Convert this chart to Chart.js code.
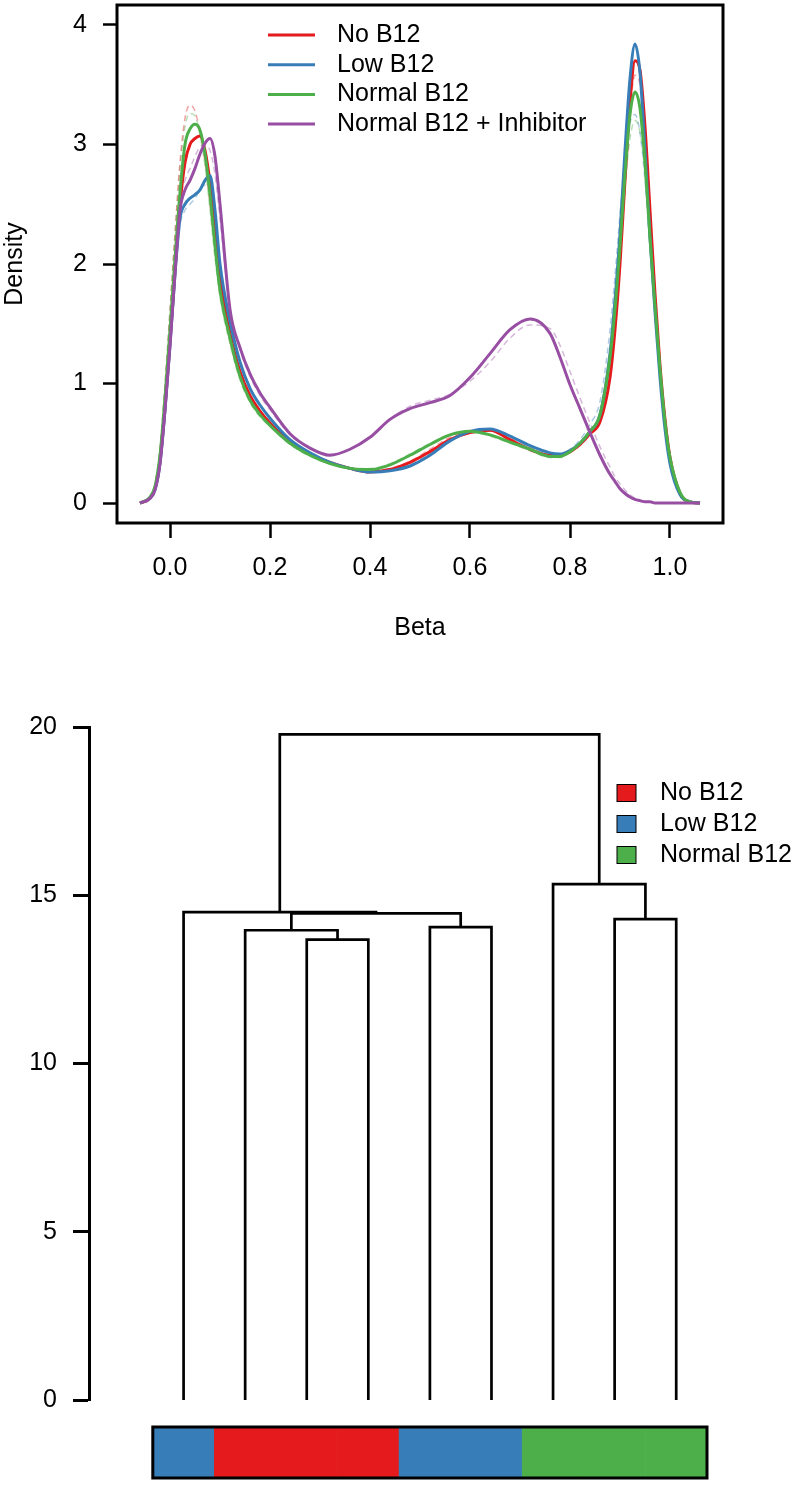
<!DOCTYPE html>
<html>
<head>
<meta charset="utf-8">
<script src="https://cdn.jsdelivr.net/npm/chart.js@4.4.1/dist/chart.umd.min.js"></script>
<style>
  html, body { margin: 0; padding: 0; background: #fff; }
  body { position: relative; width: 800px; height: 1485px; overflow: hidden; }
  canvas { position: absolute; left: 0; }
  #densityChart { top: 0; }
  #dendroChart { top: 660px; }
  #groupBar { top: 1410px; }
</style>
</head>
<body>
<canvas id="densityChart" width="800" height="660"></canvas>
<canvas id="dendroChart" width="800" height="750"></canvas>
<canvas id="groupBar" width="800" height="75"></canvas>
<script>
// density estimates (beta value grid, then one array per condition)
const betaGrid = [-0.06, -0.04, -0.03, -0.02, -0.01, 0.00, 0.01, 0.02, 0.03, 0.04, 0.05, 0.06, 0.07, 0.08, 0.09, 0.10,
    0.12, 0.14, 0.16, 0.18, 0.20,
    0.24, 0.28, 0.32, 0.36, 0.40, 0.44, 0.48, 0.52, 0.56, 0.60, 0.64, 0.68, 0.72,
    0.76, 0.78, 0.80, 0.82, 0.84, 0.86, 0.88,
    0.89, 0.90, 0.91, 0.92, 0.93, 0.94, 0.95, 0.96, 0.97, 0.98, 0.99, 1.00,
    1.02, 1.04, 1.06];

const noB12 = [0, 0.04, 0.12, 0.35, 0.80, 1.35, 1.95, 2.50, 2.85, 3.00, 3.05, 3.07, 2.95, 2.68, 2.28, 1.88,
    1.42, 1.10, 0.90, 0.77, 0.67,
    0.51, 0.41, 0.34, 0.29, 0.26, 0.28, 0.34, 0.43, 0.53, 0.59, 0.61, 0.53, 0.45,
    0.40, 0.40, 0.43, 0.49, 0.58, 0.68, 1.05,
    1.45, 2.00, 2.70, 3.35, 3.70, 3.62, 3.15, 2.45, 1.75, 1.15, 0.70, 0.38,
    0.08, 0.01, 0];
const lowB12 = [0, 0.04, 0.11, 0.33, 0.78, 1.32, 1.92, 2.38, 2.50, 2.55, 2.58, 2.62, 2.70, 2.74, 2.45, 2.00,
    1.52, 1.18, 0.96, 0.82, 0.71,
    0.53, 0.42, 0.34, 0.29, 0.26, 0.27, 0.31, 0.40, 0.52, 0.60, 0.62, 0.56, 0.48,
    0.42, 0.41, 0.44, 0.50, 0.60, 0.74, 1.25,
    1.70, 2.25, 2.95, 3.55, 3.84, 3.60, 2.95, 2.22, 1.60, 1.05, 0.62, 0.33,
    0.07, 0.01, 0];
const normalB12 = [0, 0.05, 0.14, 0.40, 0.88, 1.45, 2.05, 2.60, 3.00, 3.13, 3.17, 3.12, 2.92, 2.58, 2.15, 1.78,
    1.38, 1.06, 0.86, 0.74, 0.65,
    0.50, 0.40, 0.33, 0.29, 0.28, 0.32, 0.40, 0.49, 0.57, 0.60, 0.57, 0.51, 0.45,
    0.39, 0.39, 0.43, 0.50, 0.60, 0.74, 1.22,
    1.62, 2.15, 2.75, 3.25, 3.44, 3.30, 2.85, 2.22, 1.65, 1.12, 0.68, 0.38,
    0.09, 0.01, 0];
const inhibitor = [0, 0.04, 0.11, 0.33, 0.78, 1.32, 1.92, 2.45, 2.62, 2.70, 2.80, 2.92, 3.01, 3.05, 2.90, 2.50,
    1.62, 1.30, 1.08, 0.92, 0.80,
    0.58, 0.46, 0.40, 0.45, 0.55, 0.70, 0.79, 0.84, 0.90, 1.05, 1.25, 1.45, 1.54,
    1.42, 1.22, 0.99, 0.79, 0.59, 0.40, 0.24,
    0.18, 0.12, 0.08, 0.05, 0.03, 0.02, 0.01, 0.01, 0, 0, 0, 0,
    0, 0, 0];

// single replicates, drawn dashed behind the group means
const noB12Rep = [0, 0.05, 0.15, 0.45, 0.98, 1.60, 2.25, 2.85, 3.22, 3.33, 3.28, 3.10, 2.85, 2.50, 2.12, 1.78,
    1.35, 1.05, 0.86, 0.74, 0.65,
    0.50, 0.40, 0.33, 0.29, 0.27, 0.29, 0.35, 0.45, 0.55, 0.60, 0.60, 0.52, 0.44,
    0.39, 0.39, 0.42, 0.48, 0.57, 0.68, 1.08,
    1.50, 2.05, 2.70, 3.28, 3.58, 3.50, 3.08, 2.42, 1.75, 1.16, 0.71, 0.39,
    0.09, 0.01, 0];
const lowB12Rep = [0, 0.04, 0.11, 0.32, 0.76, 1.30, 1.88, 2.32, 2.45, 2.50, 2.55, 2.62, 2.66, 2.60, 2.38, 2.00,
    1.52, 1.18, 0.96, 0.82, 0.71,
    0.53, 0.42, 0.34, 0.29, 0.26, 0.27, 0.32, 0.41, 0.52, 0.59, 0.61, 0.55, 0.47,
    0.41, 0.41, 0.45, 0.53, 0.66, 0.85, 1.45,
    1.90, 2.42, 2.90, 3.18, 3.25, 3.10, 2.70, 2.15, 1.60, 1.08, 0.66, 0.36,
    0.08, 0.01, 0];
const normalB12Rep = [0, 0.05, 0.16, 0.46, 1.00, 1.62, 2.25, 2.80, 3.15, 3.26, 3.24, 3.08, 2.82, 2.45, 2.05, 1.72,
    1.33, 1.03, 0.84, 0.72, 0.64,
    0.49, 0.39, 0.33, 0.29, 0.29, 0.33, 0.41, 0.50, 0.57, 0.59, 0.56, 0.50, 0.44,
    0.38, 0.38, 0.42, 0.49, 0.60, 0.76, 1.25,
    1.62, 2.12, 2.65, 3.05, 3.20, 3.10, 2.75, 2.20, 1.66, 1.15, 0.72, 0.41,
    0.10, 0.01, 0];
const inhibitorRep = [0, 0.04, 0.12, 0.36, 0.82, 1.38, 1.98, 2.52, 2.70, 2.80, 2.90, 2.98, 3.00, 2.95, 2.75, 2.38,
    1.62, 1.28, 1.06, 0.90, 0.78,
    0.57, 0.46, 0.41, 0.45, 0.55, 0.70, 0.81, 0.86, 0.91, 1.02, 1.18, 1.38, 1.49,
    1.46, 1.32, 1.10, 0.88, 0.67, 0.47, 0.30,
    0.22, 0.16, 0.11, 0.07, 0.04, 0.02, 0.01, 0.01, 0, 0, 0, 0,
    0, 0, 0];

const seriesNames = ['No B12', 'Low B12', 'Normal B12', 'Normal B12 + Inhibitor'];
const seriesColors = ['#E41A1C', '#377EB8', '#4DAF4A', '#984EA3'];
const repColors = ['rgba(228,26,28,0.4)', 'rgba(55,126,184,0.4)', 'rgba(77,175,74,0.4)', 'rgba(152,78,163,0.4)'];

const betaTicks = [0, 0.2, 0.4, 0.6, 0.8, 1.0];
const densityTicks = [0, 1, 2, 3, 4];

// clustering: leaves left to right, merges in R's hclust convention (negative = leaf)
const groupNames = ['No B12', 'Low B12', 'Normal B12'];
const groupColors = ['#E41A1C', '#377EB8', '#4DAF4A'];
const leafGroup = [1, 0, 0, 0, 1, 1, 2, 2, 2];
const mergePairs = [[-3, -4], [-2, 1], [-5, -6], [2, 3], [-1, 4], [-8, -9], [-7, 6], [5, 7]];
const mergeHeights = [13.68, 13.96, 14.05, 14.46, 14.50, 14.29, 15.33, 19.78];
const heightTicks = [0, 5, 10, 15, 20];

const FONT = '"Liberation Sans", Arial, Helvetica, sans-serif';
Chart.defaults.font.family = FONT;
Chart.defaults.font.size = 25;
Chart.defaults.color = '#000';
Chart.defaults.animation = false;
Chart.defaults.events = [];
Chart.defaults.plugins.legend.display = false;
Chart.defaults.plugins.tooltip.enabled = false;

const framePlugin = {
    id: 'frame',
    afterDatasetsDraw(chart) {
        const a = chart.chartArea;
        const ctx = chart.ctx;
        ctx.save();
        ctx.lineWidth = 3;
        ctx.strokeStyle = '#000';
        ctx.strokeRect(a.left, a.top, a.right - a.left, a.bottom - a.top);
        ctx.restore();
    }
};

function makeLegend(items, pos) {
    return {
        id: 'insetLegend',
        afterDraw(chart) {
            const ctx = chart.ctx;
            ctx.save();
            ctx.font = '25px ' + FONT;
            ctx.textBaseline = 'middle';
            items.forEach(function(item, i) {
                const y = pos.y + i * pos.gap;
                if (pos.swatch === 'line') {
                    ctx.strokeStyle = item.color;
                    ctx.lineWidth = 3;
                    ctx.beginPath();
                    ctx.moveTo(pos.x, y);
                    ctx.lineTo(pos.x + pos.w, y);
                    ctx.stroke();
                } else {
                    ctx.fillStyle = item.color;
                    ctx.fillRect(pos.x, y - 8.5, pos.w, 17);
                    ctx.strokeStyle = '#000';
                    ctx.lineWidth = 1;
                    ctx.strokeRect(pos.x, y - 8.5, pos.w, 17);
                }
                ctx.fillStyle = '#000';
                ctx.fillText(item.label, pos.textX, y);
            });
            ctx.restore();
        }
    };
}

function noScalePadding(scale) {
    scale.paddingTop = 0;
    scale.paddingBottom = 0;
    scale.paddingLeft = 0;
    scale.paddingRight = 0;
}

// ---- density plot ----
const mainSeries = [noB12, lowB12, normalB12, inhibitor];
const repSeries = [noB12Rep, lowB12Rep, normalB12Rep, inhibitorRep];
const drawOrder = [3, 2, 1, 0];

const densityDatasets = [];
repSeries.forEach(function(vals, k) {
    densityDatasets.push({
        label: seriesNames[k] + ' (replicate)',
        data: betaGrid.map((b, i) => ({ x: b, y: vals[i] })),
        borderColor: repColors[k],
        borderWidth: 1.5,
        borderDash: [6, 4],
        pointRadius: 0,
        cubicInterpolationMode: 'monotone',
        order: 10
    });
});
mainSeries.forEach(function(vals, k) {
    densityDatasets.push({
        label: seriesNames[k],
        data: betaGrid.map((b, i) => ({ x: b, y: vals[i] })),
        borderColor: seriesColors[k],
        borderWidth: 3,
        pointRadius: 0,
        cubicInterpolationMode: 'monotone',
        order: drawOrder[k]
    });
});

new Chart(document.getElementById('densityChart'), {
    type: 'line',
    data: { datasets: densityDatasets },
    options: {
        responsive: false,
        layout: { padding: { top: 5, right: 77, left: 0, bottom: 0 } },
        scales: {
            x: {
                type: 'linear',
                min: -0.106,
                max: 1.106,
                afterBuildTicks: s => { s.ticks = betaTicks.map(v => ({ value: v })); },
                afterFit: s => { s.height = 137; noScalePadding(s); },
                border: { display: false },
                grid: { drawOnChartArea: false, tickLength: 15, tickWidth: 2.5, tickColor: '#000' },
                ticks: { padding: 15, autoSkip: false, maxRotation: 0, callback: v => Number(v).toFixed(1) },
                title: { display: true, text: 'Beta', padding: { top: 0, bottom: 17 } }
            },
            y: {
                min: -0.167,
                max: 4.167,
                afterBuildTicks: s => { s.ticks = densityTicks.map(v => ({ value: v })); },
                afterFit: s => { s.width = 117; noScalePadding(s); },
                border: { display: false },
                grid: { drawOnChartArea: false, tickLength: 14, tickWidth: 2.5, tickColor: '#000' },
                ticks: { padding: 16 },
                title: { display: true, text: 'Density', padding: { top: 0, bottom: 0 } }
            }
        }
    },
    plugins: [framePlugin, makeLegend(
        seriesNames.map((n, i) => ({ label: n, color: seriesColors[i] })),
        { swatch: 'line', x: 268, w: 47, textX: 337, y: 35, gap: 29.7 }
    )]
});

// ---- dendrogram ----
const mergeX = [];
const nodeX = id => (id < 0 ? -id : mergeX[id - 1]);
const nodeH = id => (id < 0 ? 0 : mergeHeights[id - 1]);
const linkDatasets = mergePairs.map(function(pair, k) {
    const a = pair[0], b = pair[1];
    const xa = nodeX(a), xb = nodeX(b), h = mergeHeights[k];
    mergeX.push((xa + xb) / 2);
    return {
        data: [{ x: xa, y: nodeH(a) }, { x: xa, y: h }, { x: xb, y: h }, { x: xb, y: nodeH(b) }],
        borderColor: '#000',
        borderWidth: 2.7,
        pointRadius: 0,
        tension: 0,
        clip: false
    };
});

new Chart(document.getElementById('dendroChart'), {
    type: 'line',
    data: { datasets: linkDatasets },
    options: {
        responsive: false,
        layout: { padding: { top: 67, right: 93, left: 0, bottom: 10 } },
        scales: {
            x: { type: 'linear', min: -0.536, max: 9.5, display: false },
            y: {
                min: 0,
                max: 20,
                afterBuildTicks: s => { s.ticks = heightTicks.map(v => ({ value: v })); },
                afterFit: s => { s.width = 89; noScalePadding(s); },
                border: { display: true, color: '#000', width: 3 },
                grid: { drawOnChartArea: false, tickLength: 16, tickWidth: 3, tickColor: '#000' },
                ticks: { padding: 16 }
            }
        }
    },
    plugins: [makeLegend(
        groupNames.map((n, i) => ({ label: n, color: groupColors[i] })),
        { swatch: 'box', x: 617, w: 19, textX: 660, y: 133, gap: 31 }
    )]
});

// ---- group colour strip under the leaves ----
new Chart(document.getElementById('groupBar'), {
    type: 'bar',
    data: {
        labels: leafGroup.map((g, i) => 'leaf ' + (i + 1)),
        datasets: [{
            label: 'Group',
            data: leafGroup.map(() => 1),
            backgroundColor: leafGroup.map(g => groupColors[g]),
            borderWidth: 0,
            categoryPercentage: 1,
            barPercentage: 1
        }]
    },
    options: {
        responsive: false,
        layout: { padding: { top: 17, right: 93, left: 152.8, bottom: 7 } },
        scales: {
            x: { display: false },
            y: { display: false, min: 0, max: 1 }
        }
    },
    plugins: [framePlugin]
});
</script>
</body>
</html>
